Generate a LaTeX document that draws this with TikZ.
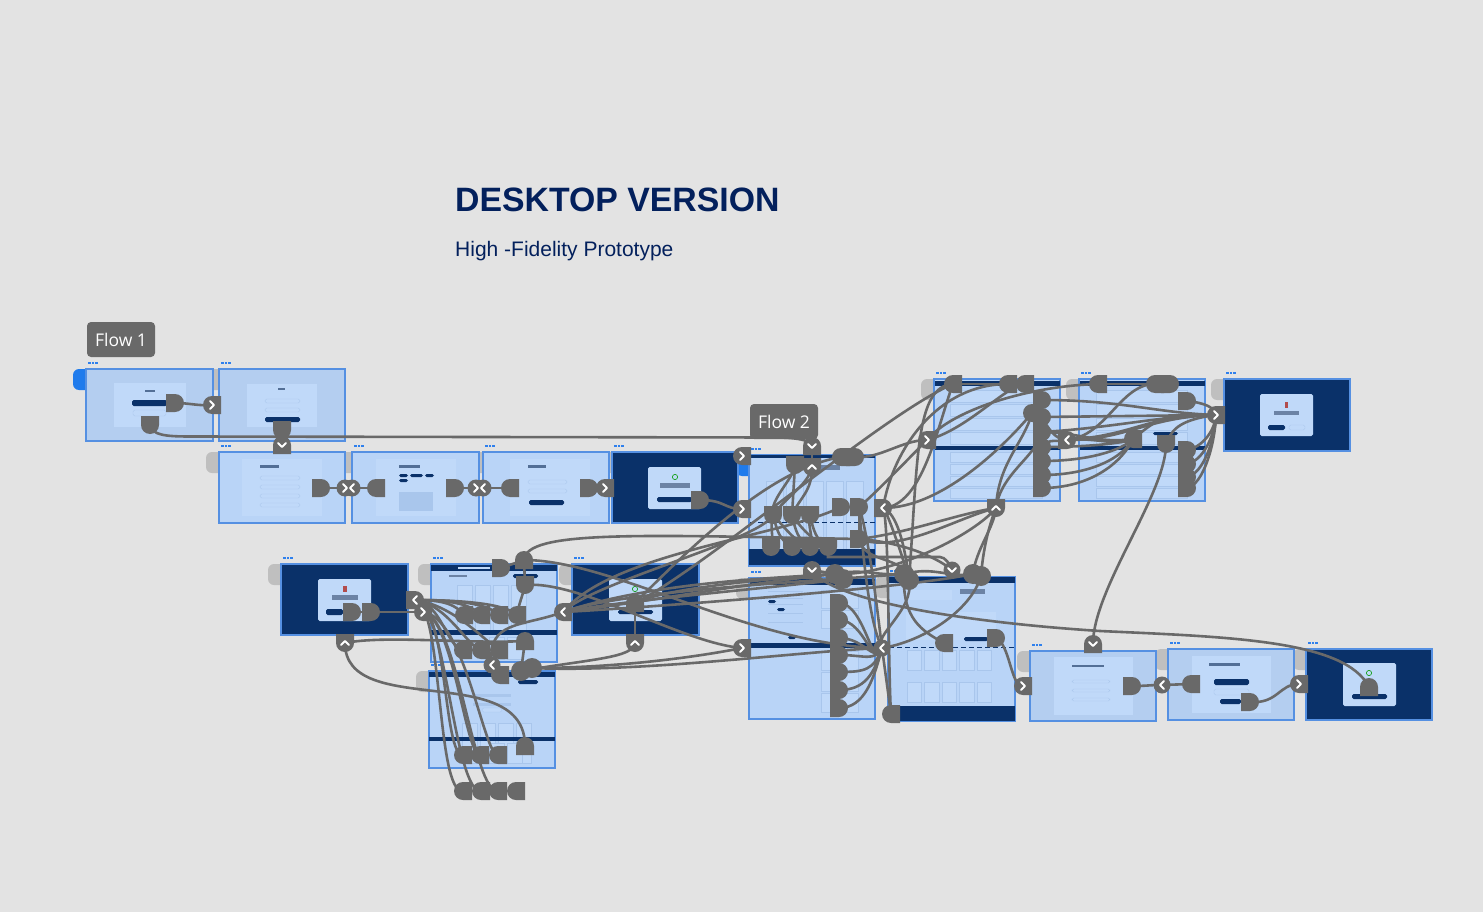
\documentclass[tikz,border=0pt]{standalone}
\usepackage{fontspec}
\setmainfont{Liberation Sans}
\newfontfamily\flowfont{Open Sans}
\usetikzlibrary{shapes.misc}
\definecolor{bgc}{HTML}{E3E3E3}
\definecolor{frl}{HTML}{B9D4F7}
\definecolor{frm}{HTML}{B4CEF0}
\definecolor{edge}{HTML}{5590E2}
\definecolor{navy}{HTML}{0A3169}
\definecolor{cardc}{HTML}{C0D9F9}
\definecolor{cardl}{HTML}{A9C6EC}
\definecolor{hot}{HTML}{696969}
\definecolor{tabc}{HTML}{BFBFBF}
\definecolor{tabb}{HTML}{1F7BEC}
\definecolor{dots}{HTML}{2F80ED}
\definecolor{titlec}{HTML}{03205C}
\tikzset{
  x=1pt,y=-1pt,
  hotbase/.style={rounded rectangle,rounded rectangle west arc=none,fill=hot,draw=none,inner sep=0pt,minimum width=17pt,minimum height=18pt},
  hotR/.style={hotbase},
  hotL/.style={hotbase,rotate=180},
  hotT/.style={hotbase,rotate=90},
  hotB/.style={hotbase,rotate=-90},
  blob/.style={circle,fill=hot,inner sep=0pt,minimum size=20pt},
  btn/.style={circle,fill=hot,inner sep=0pt,minimum size=17pt},
  conn/.style={draw=hot,line width=2.6pt,line cap=round},
  chevline/.style={draw=white,line width=1.8pt,line cap=round,line join=round},
  flow/.style={fill=hot,rounded corners=4pt,text=white,minimum width=68pt,minimum height=35pt,inner sep=0pt,font=\flowfont\fontsize{17.5}{20}\selectfont},
}
\newcommand{\rbox}[5]{\fill[#5] (#1,#2) rectangle (#3,#4);}
\newcommand{\pil}[5]{\fill[#5,rounded corners=1.6pt] (#1,#2) rectangle (#3,#4);}
\newcommand{\tabg}[3]{\fill[#3,rounded corners=6pt] (#1-13,#2) -- (#1-13,#2+21) -- (#1+8,#2+21) -- (#1+8,#2) -- cycle;}
\newcommand{\frameb}[5]{%
  \fill[#5,draw=edge,line width=1.3pt] (#1,#2) rectangle (#3,#4);
  \fill[dots] (#1+2,#2-7) rectangle +(2.8,2);
  \fill[dots] (#1+5.6,#2-7) rectangle +(2.8,2);
  \fill[dots] (#1+9.2,#2-7) rectangle +(2.8,2);}
\newcommand{\CC}[6]{\draw[conn] (#1.center) .. controls +(#2,#3) and +(#4,#5) .. (#6.center);}
\newcommand{\LL}[2]{\draw[conn] (#1.center) -- (#2.center);}
\newcommand{\chR}[1]{\draw[chevline] ([shift={(-2,-4)}]#1.center) -- ([shift={(2,0)}]#1.center) -- ([shift={(-2,4)}]#1.center);}
\newcommand{\chL}[1]{\draw[chevline] ([shift={(2,-4)}]#1.center) -- ([shift={(-2,0)}]#1.center) -- ([shift={(2,4)}]#1.center);}
\newcommand{\chD}[1]{\draw[chevline] ([shift={(-4,-2)}]#1.center) -- ([shift={(0,2)}]#1.center) -- ([shift={(4,-2)}]#1.center);}
\newcommand{\chU}[1]{\draw[chevline] ([shift={(-4,2)}]#1.center) -- ([shift={(0,-2)}]#1.center) -- ([shift={(4,2)}]#1.center);}
\newcommand{\rowcards}[5]{\foreach \k in {0,...,#4}{\fill[cardc,draw=cardl,line width=.3pt] (#1+\k*#5,#2) rectangle +(#5-3,#3);}}
\newcommand{\listrows}[5]{\foreach \k in {0,...,#4}{\fill[cardc,draw=cardl,line width=.3pt] (#1,#2+\k*#5) rectangle (#3,#2+\k*#5+#5-2);}}
\begin{document}
\begin{tikzpicture}
\useasboundingbox (0,0) rectangle (1483,912);
\fill[bgc] (0,0) rectangle (1483,912);
\node[anchor=west,inner sep=0pt,text=titlec,font=\bfseries\fontsize{33.8}{40}\selectfont] (title) at (455,200) {DESKTOP VERSION};
\node[anchor=west,inner sep=0pt,text=titlec,font=\fontsize{21}{24}\selectfont] (subtitle) at (455,251) {High -Fidelity Prototype};
\tabg{86}{369}{tabb}\tabg{219}{369}{tabc}\tabg{219}{452}{tabc}\tabg{352}{452}{tabc}
\tabg{483}{452}{tabc}\tabg{612}{452}{tabc}\tabg{281}{564}{tabc}\tabg{431}{564}{tabc}
\tabg{572}{564}{tabc}\tabg{429}{671}{tabc}\tabg{749}{578}{tabc}\tabg{888}{577}{tabc}
\tabg{749}{455}{tabb}
\tabg{934}{379}{tabc}\tabg{1079}{379}{tabc}\tabg{1224}{379}{tabc}\tabg{1030}{651}{tabc}
\tabg{1168}{649}{tabc}\tabg{1306}{649}{tabc}
\frameb{86}{369}{213}{441}{frm}
\rbox{114}{383}{186}{427}{cardc}\pil{132}{400}{167}{406}{navy}\pil{133}{410}{166}{416}{cardc,draw=cardl,line width=.4pt}\rbox{145}{390}{155}{392}{navy!70}
\frameb{219}{369}{345}{441}{frm}
\rbox{247}{384}{317}{427}{cardc}\rbox{278}{388}{285}{390}{navy!70}\pil{265}{399}{300}{403}{cardc,draw=cardl,line width=.4pt}\pil{265}{408}{300}{412}{cardc,draw=cardl,line width=.4pt}\pil{265}{417}{300}{422}{navy}
\frameb{219}{452}{345}{523}{frl}
\rbox{242}{459}{322}{516}{cardc}\rbox{260}{465}{279}{468}{navy!70}\foreach \q in {476,485,494,503}{\pil{260}{\q}{300}{\q+4}{cardc,draw=cardl,line width=.4pt}}
\frameb{352}{452}{479}{523}{frl}
\rbox{376}{459}{456}{516}{cardc}\rbox{399}{465}{420}{468}{navy!70}\pil{399}{474}{408}{477}{navy}\pil{410}{474}{423}{477}{navy}\pil{425}{474}{434}{477}{navy}\pil{399}{479}{408}{482}{navy}\rbox{399}{492}{433}{511}{cardl}
\frameb{483}{452}{609}{523}{frl}
\rbox{510}{459}{590}{516}{cardc}\rbox{528}{465}{546}{468}{navy!70}\pil{528}{480}{567}{484}{cardc,draw=cardl,line width=.4pt}\pil{528}{489}{567}{493}{cardc,draw=cardl,line width=.4pt}\pil{529}{500}{564}{505}{navy}
\frameb{612}{452}{738}{523}{navy}
\pil{648}{467}{701}{509}{cardc}\draw[green!60!black,line width=.6pt] (675,477) circle (2.6);\rbox{660}{483}{690}{488}{navy!60}\pil{657}{497}{692}{502}{navy}
\frameb{749}{455}{875}{566}{frl}
\rbox{750}{455}{875}{458}{navy}\rbox{806}{465}{840}{470}{navy!60}\rowcards{766}{481}{82}{4}{20}\draw[dash pattern=on 5pt off 3pt,navy,line width=.7pt] (750,522)--(875,522);\rbox{749}{549}{875}{565}{navy}
\frameb{281}{564}{408}{635}{navy}
\pil{318}{579}{371}{621}{cardc}\fill[red!40!gray] (343,586) rectangle (347,592);\rbox{332}{595}{358}{600}{navy!60}\pil{326}{609}{343}{615}{navy}
\frameb{431}{564}{557}{662}{frl}
\rbox{431}{565}{557}{571}{navy}\rbox{458}{567}{490}{569}{cardc}\pil{513}{574}{538}{578}{navy}\rbox{449}{575}{467}{577}{navy!60}\rowcards{457}{585}{45}{3}{18}\rbox{431}{630}{557}{635}{navy}\rowcards{489}{637}{22}{1}{18}
\frameb{572}{564}{699}{635}{navy}
\pil{609}{579}{662}{621}{cardc}\draw[green!60!black,line width=.6pt] (635,589) circle (2.6);\pil{618}{610}{653}{614}{navy}
\frameb{429}{671}{555}{768}{frl}
\rbox{429}{672}{555}{677}{navy}\pil{518}{680}{538}{684}{navy}\rbox{473}{694}{511}{697}{cardl}\rbox{473}{703}{511}{706}{cardl}\pil{482}{708}{502}{712}{cardc,draw=cardl,line width=.4pt}\rowcards{462}{723}{40}{3}{18}\rbox{429}{737}{555}{741}{navy}\rowcards{489}{743}{20}{1}{18}
\frameb{749}{578}{875}{719}{frl}
\rbox{750}{579}{875}{585}{navy}\foreach \q in {591,598,604,613,622}{\rbox{768}{\q}{803}{\q+1.3}{cardl}}\pil{768}{600}{776}{603}{navy}\pil{777}{608}{785}{611}{navy}\pil{788}{636}{796}{639}{navy}\rbox{749}{643}{875}{648}{navy}\listrows{821}{590}{858}{1}{20}\listrows{821}{651}{858}{2}{21}
\frameb{888}{577}{1015}{721}{frl}
\rbox{889}{577}{1015}{583}{navy}\rbox{905}{590}{952}{600}{cardc}\rbox{960}{589}{985}{594}{navy!60}\rbox{906}{612}{996}{640}{cardc}\pil{964}{637}{988}{641}{navy}\draw[dash pattern=on 5pt off 3pt,navy,line width=.7pt] (889,647)--(1015,647);\rowcards{907}{650}{20}{4}{17.5}\rowcards{907}{682}{20}{4}{17.5}\rbox{888}{706}{1015}{721}{navy}
\frameb{934}{379}{1060}{501}{frl}
\rbox{935}{381}{1060}{386}{navy}\listrows{950}{390}{1042}{3}{14}\rbox{935}{446}{1060}{450}{navy}\listrows{950}{452}{1042}{3}{12}
\frameb{1079}{379}{1205}{501}{frl}
\rbox{1080}{381}{1205}{386}{navy}\listrows{1096}{390}{1187}{3}{14}\pil{1153}{432}{1178}{435}{navy}\rbox{1080}{446}{1205}{450}{navy}\listrows{1096}{452}{1187}{3}{12}
\frameb{1224}{379}{1350}{451}{navy}
\pil{1260}{394}{1313}{436}{cardc}\fill[red!40!gray] (1285,402) rectangle (1288,408);\rbox{1274}{411}{1299}{415}{navy!60}\pil{1268}{425}{1285}{430}{navy}\pil{1289}{425}{1305}{430}{cardc,draw=cardl,line width=.4pt}
\frameb{1030}{651}{1156}{721}{frm}
\rbox{1054}{657}{1133}{715}{cardc}\rbox{1072}{665}{1104}{667}{navy!70}\foreach \q in {680,689,698}{\pil{1072}{\q}{1110}{\q+3}{cardc,draw=cardl,line width=.4pt}}
\frameb{1168}{649}{1294}{720}{frm}
\rbox{1192}{656}{1271}{713}{cardc}\rbox{1209}{663}{1240}{666}{navy!70}\pil{1214}{679}{1249}{685}{navy}\pil{1214}{689}{1249}{695}{cardc,draw=cardl,line width=.4pt}\pil{1220}{699}{1241}{704}{navy}
\frameb{1306}{649}{1432}{720}{navy}
\pil{1343}{663}{1396}{706}{cardc}\draw[green!60!black,line width=.6pt] (1369,673) circle (2.6);\pil{1352}{694}{1387}{699}{navy}
\node[flow] (flowa) at (121,339.5) {Flow 1};
\node[flow] (flowb) at (784,421.5) {Flow 2};
\node[hotR] (ha1) at (175,403) {};\node[hotB] (ha2) at (150,425) {};\node[hotB] (ha3) at (282,430) {};
\node[hotR] (ha4) at (321,488) {};\node[hotL] (ha5) at (376,488) {};\node[hotR] (ha6) at (455,488) {};
\node[hotL] (ha7) at (510,488) {};\node[hotR] (ha8) at (589,488) {};\node[hotR] (ha9) at (700,500) {};
\node[hotB] (g1) at (795,465) {};\node[hotL] (g2) at (841,457) {};\node[hotR] (g3) at (855,457) {};
\node[hotB] (g4) at (773,515) {};\node[hotB] (g5) at (792,515) {};\node[hotB] (g6) at (810,515) {};
\node[hotR] (g7) at (841,507) {};\node[hotR] (g8) at (859,507) {};
\node[hotB] (g9) at (771,547) {};\node[hotB] (g10) at (792,547) {};\node[hotB] (g11) at (810,547) {};\node[hotB] (g12) at (828,547) {};
\node[hotR] (g13) at (859,539) {};
\node[blob] (m1) at (835,574) {};\node[blob] (m2) at (843,579) {};
\node[blob] (m3) at (904,574) {};\node[blob] (m4) at (909,580) {};
\node[blob] (m5) at (973,574) {};\node[blob] (m6) at (981,576) {};
\node[hotR] (r1) at (839,603) {};\node[hotR] (r2) at (839,620) {};\node[hotR] (r3) at (839,638) {};
\node[hotR] (r4) at (839,655) {};\node[hotR] (r5) at (839,672) {};\node[hotR] (r6) at (839,690) {};\node[hotR] (r7) at (839,708) {};
\node[hotL] (n1) at (944,643) {};\node[hotR] (n2) at (996,638) {};\node[hotL] (n3) at (891,714) {};
\node[hotL] (t1) at (953,384) {};\node[hotL] (t2) at (1008,384) {};\node[hotL] (t3) at (1025,384) {};
\node[hotL] (t4) at (1098,384) {};\node[hotL] (t5) at (1155,384) {};\node[hotR] (t6) at (1170,384) {};\node[hotR] (t7) at (1187,401) {};
\node[hotR] (c1) at (1042,400) {};\node[hotR] (c2) at (1042,417) {};\node[hotR] (c3) at (1042,432) {};
\node[hotR] (c4) at (1042,447) {};\node[hotR] (c5) at (1042,461) {};\node[hotR] (c6) at (1042,475) {};\node[hotR] (c7) at (1042,488) {};
\node[hotL] (c8) at (1032,413) {};
\node[hotL] (u1) at (1133,439) {};\node[hotB] (u2) at (1166,444) {};
\node[hotR] (d1) at (1187,450) {};\node[hotR] (d2) at (1187,464) {};\node[hotR] (d3) at (1187,477) {};\node[hotR] (d4) at (1187,488) {};
\node[hotR] (p1) at (501,568) {};\node[hotT] (p2) at (524,560) {};\node[hotB] (p3) at (525,585) {};
\node[hotL] (q1) at (464,615) {};\node[hotL] (q2) at (481,615) {};\node[hotL] (q3) at (499,615) {};\node[hotL] (q4) at (517,615) {};
\node[hotL] (q5) at (463,650) {};\node[hotL] (q6) at (481,650) {};\node[hotL] (q7) at (499,650) {};
\node[hotT] (q8) at (525,641) {};\node[blob] (q9) at (521,671) {};\node[blob] (q10) at (532,668) {};\node[hotL] (q11) at (500,675) {};
\node[hotL] (s1) at (463,755) {};\node[hotL] (s2) at (480,755) {};\node[hotL] (s3) at (498,755) {};\node[hotT] (s4) at (525,746) {};
\node[hotL] (v1) at (463,791) {};\node[hotL] (v2) at (481,791) {};\node[hotL] (v3) at (498,791) {};\node[hotL] (v4) at (516,791) {};
\node[hotR] (e1) at (352,612) {};\node[hotR] (e2) at (371,612) {};\node[hotT] (f1) at (635,603) {};
\node[hotT] (z1) at (1369,687) {};\node[hotR] (z2) at (1132,686) {};\node[hotL] (z3) at (1191,684) {};\node[hotR] (z4) at (1250,702) {};
% buttons by outline
\foreach \n/\px/\py in {b3/345/488,b4/352/488,b5/476/488,b6/483/488,b24/882/648,b27/1162/685,b29/952/570,bx/492/665}{\node[btn] (\n) at (\px,\py) {};}
\foreach \n/\px/\py in {b1/212/405,b7/605/488,b8/742/456,b9/742/509,b14/927/440,b17/1216/415,b19/423/612,b20/563/612,b23/742/648,b25/1023/686,b28/1299/684}{\node[hotL] (\n) at (\px,\py) {};}
\foreach \n/\px/\py in {b12/883/508,b16/1067/440,b18/415/600}{\node[hotR] (\n) at (\px,\py) {};}
\foreach \n/\px/\py in {b2/282/445,b10/812/446,b13/812/570,b26/1093/644}{\node[hotT] (\n) at (\px,\py) {};}
\foreach \n/\px/\py in {b11/812/467,b15/996/508,b21/345/643,b22/635/643}{\node[hotB] (\n) at (\px,\py) {};}
\coordinate (w1) at (190,436.5);\coordinate (w2) at (775,437.5);\coordinate (w3) at (1100,631);
\CC{ha1}{15}{0}{-15}{1}{b1}
\draw[conn] (ha2.center) .. controls +(2,10) and +(-25,0) .. (w1) -- (w2) .. controls +(20,0) and +(0,-6) .. (b10.center);
\LL{ha3}{b2}\LL{ha4}{b4}\LL{ha5}{b3}\LL{ha6}{b6}\LL{ha7}{b5}\LL{ha8}{b7}
\CC{ha9}{25}{0}{-18}{0}{b9}
\LL{g1}{g5}\CC{g1}{-2}{15}{-4}{-15}{g4}\LL{b10}{b11}
\CC{b11}{0}{25}{8}{-18}{g5}\CC{b11}{-4}{18}{15}{-20}{g4}
\CC{g4}{4}{14}{-14}{-8}{g10}\CC{g4}{-4}{18}{4}{-12}{g9}\CC{g4}{10}{10}{-15}{-4}{g11}
\CC{g5}{3}{14}{-12}{-6}{g11}\CC{g5}{8}{12}{-14}{-5}{g12}\CC{g6}{3}{14}{-12}{-6}{g12}\CC{g6}{-3}{12}{4}{-12}{g11}
\CC{g4}{-12}{25}{30}{-30}{b20}\CC{g7}{-60}{30}{50}{-60}{b20}
\CC{g3}{25}{2}{-25}{0}{b14}\LL{g2}{g3}
\CC{f1}{60}{-60}{-70}{12}{g2}
\CC{f1}{70}{-35}{-70}{30}{t1}
\CC{g8}{15}{-12}{-15}{15}{b14}
\CC{g8}{3}{30}{-15}{-30}{b24}\CC{g8}{10}{30}{-5}{-40}{b24}
\LL{g13}{g8}
\CC{p2}{2}{-30}{-220}{-4}{g13}
\CC{g13}{50}{-6}{-40}{6}{b15}\CC{g13}{40}{15}{-40}{10}{b15}
\CC{g13}{50}{4}{-12}{-10}{b29}\draw[conn] (g12.center) -- ++(0,10) -- ++(112,0) .. controls +(5,0) and +(-2,-6) .. (b29.center);
\CC{g13}{5}{25}{-5}{-25}{m4}
\CC{b12}{3}{0}{-5}{-20}{m4}
\CC{b12}{10}{4}{-6}{-50}{m4}
\CC{p2}{90}{0}{-130}{-2}{b24}\CC{p3}{55}{-5}{-60}{-5}{b23}
\CC{q10}{80}{0}{-50}{10}{b23}\CC{q10}{110}{5}{-80}{3}{b24}\CC{q9}{70}{-12}{-2}{15}{b22}
\CC{b21}{40}{-8}{-60}{3}{q8}
\CC{b21}{0}{77}{0}{-86}{s4}
\LL{q8}{q9}\LL{p1}{p2}\LL{p2}{p3}\CC{p3}{-2}{10}{2}{-12}{q4}
\CC{b20}{-40}{15}{-6}{-45}{bx}\LL{bx}{q11}\LL{q9}{q10}
\LL{e1}{e2}\LL{e2}{b19}
\foreach \hh/\aa/\cc/\dd in {q1/30/8/10,q2/40/10/10,q3/50/10/10,q4/55/10/10}{\CC{b18}{\aa}{0}{-\cc}{-\dd}{\hh}}
\foreach \hh/\aa/\cc/\dd in {q5/28/18/5,q6/33/15/5,q7/38/15/10}{\CC{b18}{\aa}{5}{-\cc}{-\dd}{\hh}}
\CC{b18}{28}{5}{-27}{3}{v1}\CC{b18}{33}{5}{-20}{2}{s1}
\CC{b19}{22}{5}{-25}{3}{v2}\CC{b19}{30}{5}{-14}{2}{s2}
\CC{b19}{35}{5}{-25}{3}{v3}\CC{b19}{42}{5}{-14}{2}{s3}
\LL{v1}{v2}\LL{v2}{v3}\LL{v3}{v4}
\CC{b20}{50}{-5}{-80}{8}{m1}\CC{b20}{60}{-12}{-60}{8}{m2}\CC{b20}{60}{-22}{-70}{6}{m3}\CC{b20}{90}{-30}{-60}{4}{m1}\CC{b20}{60}{-3}{-70}{15}{m5}
\CC{f1}{30}{-15}{-60}{4}{m1}\LL{f1}{b22}
\foreach \hh/\dd in {r1/30,r2/25,r3/16,r4/14,r5/22,r6/26,r7/30}{\CC{\hh}{26}{0}{-8}{\dd}{b24}}
\LL{m1}{m2}\LL{b13}{m1}\LL{m3}{m4}\LL{m5}{m6}
\CC{m1}{30}{-6}{-30}{2}{m3}\CC{m3}{30}{-8}{-25}{4}{m5}
\draw[conn] (b13.center) .. controls (830,600) and (960,622) .. (w3) .. controls (1230,637) and (1345,640) .. (z1.center);
\CC{m4}{6}{30}{-10}{-12}{b24}
\CC{m6}{-10}{35}{40}{-6}{b24}
\CC{m3}{-2}{45}{-22}{-12}{n1}
\CC{m1}{60}{2}{-20}{25}{b15}\CC{m5}{3}{-25}{-2}{20}{b15}\CC{m6}{2}{-25}{-8}{20}{b15}
\LL{b24}{n3}\CC{b12}{6}{10}{-3}{-50}{n3}
\CC{n2}{14}{6}{-12}{2}{b25}
\CC{t1}{-38}{2}{9}{-120}{m4}
\CC{t2}{-70}{0}{10}{-60}{b12}
\CC{b12}{60}{0}{-25}{30}{c8}\CC{b12}{40}{-2}{-15}{40}{t1}
\LL{t1}{t2}\LL{t2}{t3}\LL{t4}{t5}\LL{t5}{t6}
\CC{t4}{-70}{2}{25}{-30}{b14}\CC{t3}{-20}{2}{40}{-10}{b14}
\CC{t5}{-35}{0}{40}{-4}{b16}
\CC{b15}{2}{-45}{-8}{30}{c8}\CC{b15}{5}{-35}{-6}{25}{c3}
\LL{c1}{c7}\LL{c2}{c8}
\foreach \hh/\dd in {c4/4,c5/10,c6/18,c7/22}{\CC{\hh}{50}{0}{-10}{\dd}{u1}}
\CC{c3}{35}{0}{-35}{5}{u1}
\CC{c1}{80}{0}{-60}{-2}{b17}\LL{c2}{b17}\CC{c3}{70}{-4}{-50}{0}{b17}
\CC{c2}{5}{10}{-12}{0}{b16}\CC{c4}{8}{-10}{-10}{3}{b16}
\CC{b16}{70}{-5}{-70}{0}{b17}\CC{b16}{60}{0}{-70}{2}{b17}\CC{u1}{30}{-25}{-50}{0}{b17}\CC{b16}{30}{-3}{-16}{8}{u1}
\CC{u2}{5}{-12}{-40}{5}{b17}
\CC{t7}{18}{2}{-2}{-8}{b17}
\foreach \hh/\dd in {d1/15,d2/20,d3/25,d4/30}{\CC{\hh}{16}{-3}{-1}{\dd}{b17}}
\CC{u2}{0}{50}{0}{-55}{b26}
\CC{z2}{16}{0}{-14}{0}{b27}\LL{z3}{b27}\CC{z4}{28}{2}{-20}{0}{b28}
\chR{b1}\chD{b2}\chR{b3}\chL{b4}\chR{b5}\chL{b6}\chR{b7}\chR{b8}\chR{b9}\chD{b10}\chU{b11}\chL{b12}\chD{b13}\chR{b14}\chU{b15}\chL{b16}\chR{b17}\chL{b18}\chR{b19}\chL{b20}\chU{b21}\chU{b22}\chR{b23}\chL{b24}\chR{b25}\chD{b26}\chL{b27}\chR{b28}\chD{b29}\chL{bx}
\end{tikzpicture}
\end{document}
